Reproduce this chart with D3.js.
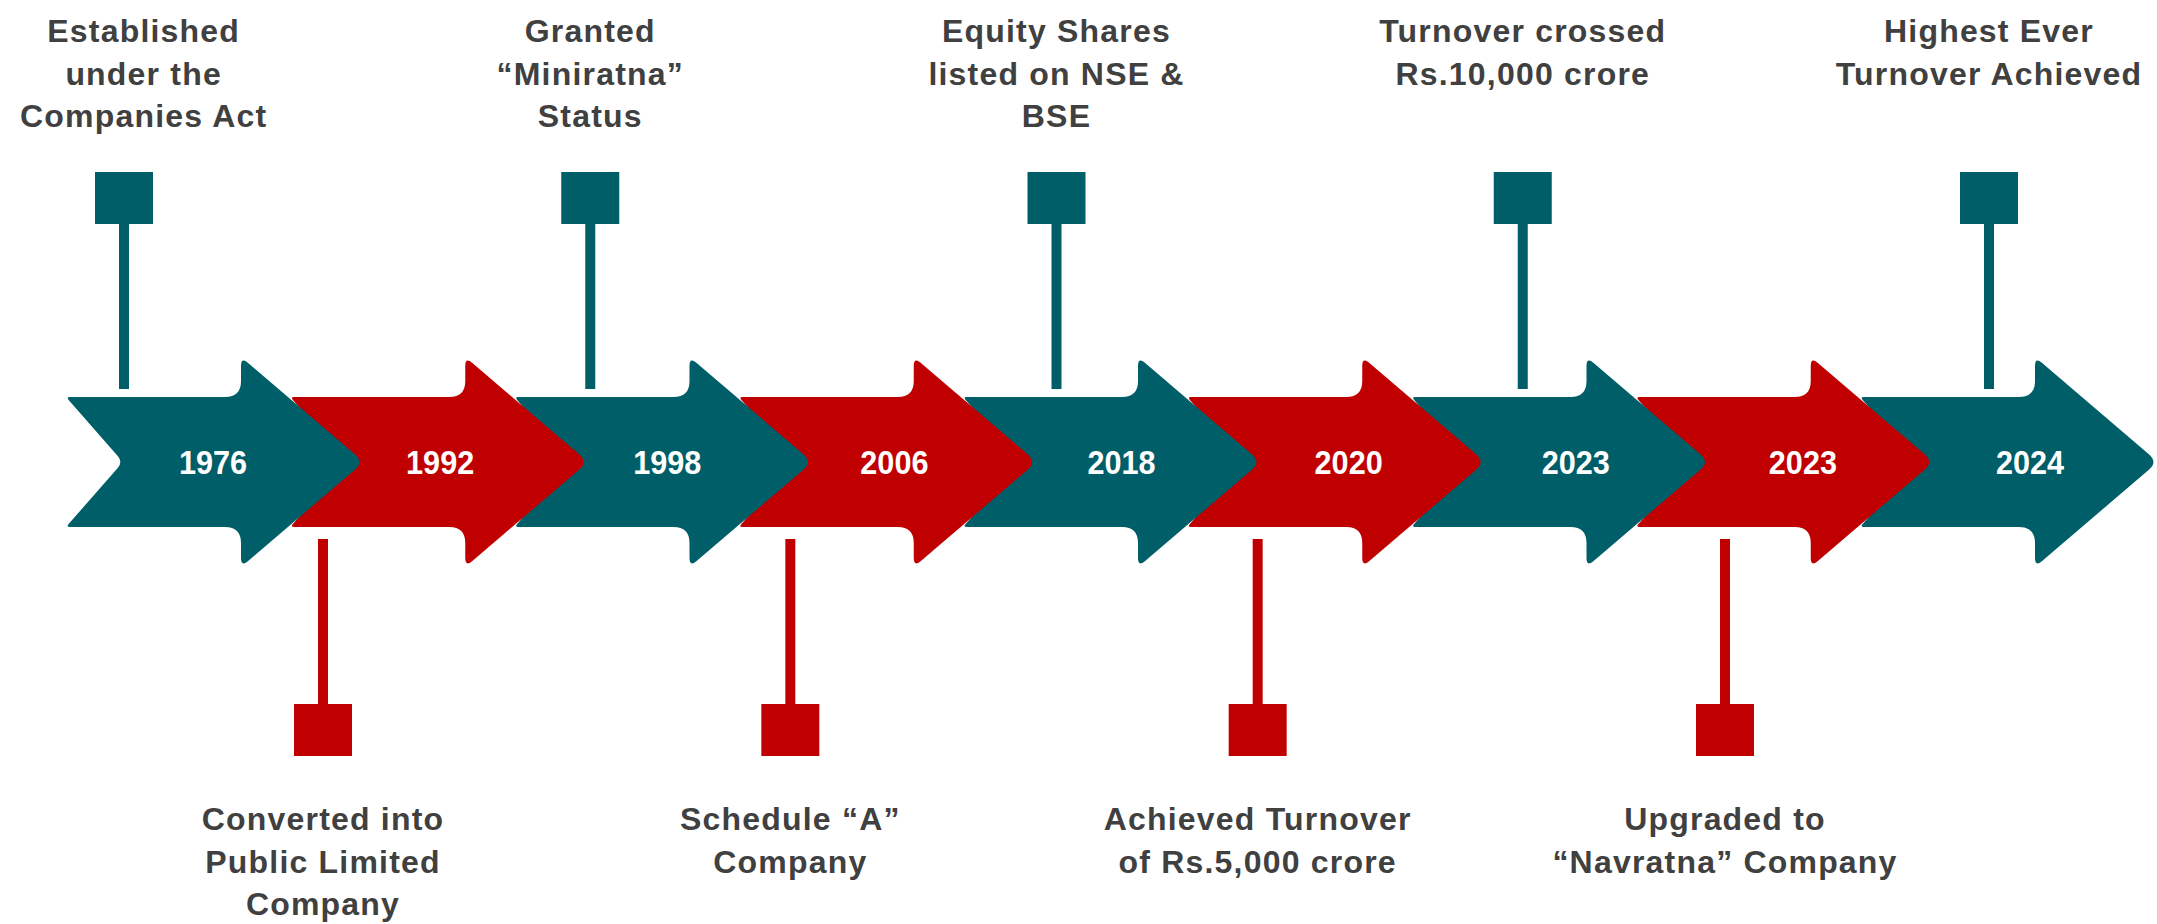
<!DOCTYPE html>
<html>
<head>
<meta charset="utf-8">
<script src="https://cdnjs.cloudflare.com/ajax/libs/d3/7.8.5/d3.min.js"></script>
<style>
  html, body { margin: 0; padding: 0; background: #fff; }
  #chart { width: 2157px; height: 924px; }
</style>
</head>
<body>
<div id="chart"></div>
<script>
// Milestone data
const years = ["1976", "1992", "1998", "2006", "2018", "2020", "2023", "2023", "2024"];
const sides = ["top", "bottom", "top", "bottom", "top", "bottom", "top", "bottom", "top"];
const captions = [
    ["Established", "under the", "Companies Act"],
    ["Converted into", "Public Limited", "Company"],
    ["Granted", "\u201CMiniratna\u201D", "Status"],
    ["Schedule \u201CA\u201D", "Company"],
    ["Equity Shares", "listed on NSE &", "BSE"],
    ["Achieved Turnover", "of Rs.5,000 crore"],
    ["Turnover crossed", "Rs.10,000 crore"],
    ["Upgraded to", "\u201CNavratna\u201D Company"],
    ["Highest Ever", "Turnover Achieved"]
];

const width = 2157;
const height = 924;
const teal = "#005E68";
const red = "#C00000";
const textColor = "#404040";

const idx = d3.range(years.length);
const topIdx = idx.filter(i => sides[i] === "top");
const bottomIdx = idx.filter(i => sides[i] === "bottom");

// arrow tips along the timeline
const tipX = d3.scalePoint().domain(idx).range([364, 2158]);
// year label centres
const labelX = d3.scalePoint().domain(idx).range([213, 2030]);
// callout stems
const topX = d3.scalePoint().domain(topIdx).range([124, 1989]);
const bottomX = d3.scalePoint().domain(bottomIdx).range([323, 1725]);
const color = d3.scaleOrdinal().domain(["top", "bottom"]).range([teal, red]);

const cy = 462;          // timeline centre
const bandHalf = 65;
const headHalf = 105;
const headLen = 123;
const arrowLen = 298;
const notch = 57;

const svg = d3.select("#chart").append("svg")
    .attr("width", width)
    .attr("height", height)
    .attr("viewBox", [0, 0, width, height])
    .style("font-family", "'Liberation Sans', Arial, sans-serif")
    .style("font-weight", "bold");

// polygon with rounded corners
function roundedPath(pts, radii) {
    let d = "";
    const n = pts.length;
    for (let i = 0; i < n; i++) {
        const p = pts[i], a = pts[(i - 1 + n) % n], b = pts[(i + 1) % n];
        const la = Math.hypot(a[0] - p[0], a[1] - p[1]);
        const lb = Math.hypot(b[0] - p[0], b[1] - p[1]);
        const r = Math.min(radii[i], la / 2, lb / 2);
        const p1 = [p[0] + (a[0] - p[0]) / la * r, p[1] + (a[1] - p[1]) / la * r];
        const p2 = [p[0] + (b[0] - p[0]) / lb * r, p[1] + (b[1] - p[1]) / lb * r];
        d += (i === 0 ? "M" : "L") + p1[0] + "," + p1[1];
        d += "Q" + p[0] + "," + p[1] + " " + p2[0] + "," + p2[1];
    }
    return d + "Z";
}

function arrowPath(i) {
    const T = tipX(i), S = T - headLen, L = T - arrowLen;
    const pts = [
        [L, cy - bandHalf], [S, cy - bandHalf], [S, cy - headHalf], [T, cy],
        [S, cy + headHalf], [S, cy + bandHalf], [L, cy + bandHalf], [L + notch, cy]
    ];
    return roundedPath(pts, [4, 16, 9, 12, 9, 16, 4, 8]);
}

// stems + squares
const calloutX = i => sides[i] === "top" ? topX(i) : bottomX(i);

const callouts = svg.append("g")
  .selectAll("g")
  .data(idx)
  .join("g")
    .attr("fill", i => color(sides[i]));

callouts.append("rect")
    .attr("x", i => calloutX(i) - 5)
    .attr("y", i => sides[i] === "top" ? 224 : 539)
    .attr("width", 10)
    .attr("height", i => sides[i] === "top" ? 389 - 224 : 704 - 539);

callouts.append("rect")
    .attr("x", i => calloutX(i) - 29)
    .attr("y", i => sides[i] === "top" ? 172 : 704)
    .attr("width", 58)
    .attr("height", 52);

// arrows, earlier ones on top
svg.append("g")
  .selectAll("path")
  .data(idx.slice().reverse())
  .join("path")
    .attr("d", arrowPath)
    .attr("fill", i => color(sides[i]));

svg.append("g")
  .selectAll("text")
  .data(idx)
  .join("text")
    .attr("transform", i => `translate(${labelX(i)},${cy}) scale(0.9,1)`)
    .attr("dy", "0.36em")
    .attr("text-anchor", "middle")
    .attr("fill", "#fff")
    .attr("font-size", 34)
    .text(i => years[i]);

// captions
const lineH = 42.5;
const caps = svg.append("g")
    .attr("fill", textColor)
    .attr("font-size", 32)
    .attr("letter-spacing", 1.2)
  .selectAll("text")
  .data(idx)
  .join("text")
    .attr("text-anchor", "middle")
    .attr("x", calloutX)
    .attr("y", i => sides[i] === "top" ? 42 : 830);

caps.selectAll("tspan")
  .data(i => captions[i].map(t => ({ t, i })))
  .join("tspan")
    .attr("x", d => calloutX(d.i))
    .attr("dy", (d, k) => k === 0 ? 0 : lineH)
    .text(d => d.t);

// keep each caption inside the page
caps.each(function(i) {
    const w = this.getBBox().width;
    const x = Math.min(Math.max(calloutX(i), w / 2 + 20), width - w / 2 - 6);
    d3.select(this).selectAll("tspan").attr("x", x);
});
</script>
</body>
</html>
